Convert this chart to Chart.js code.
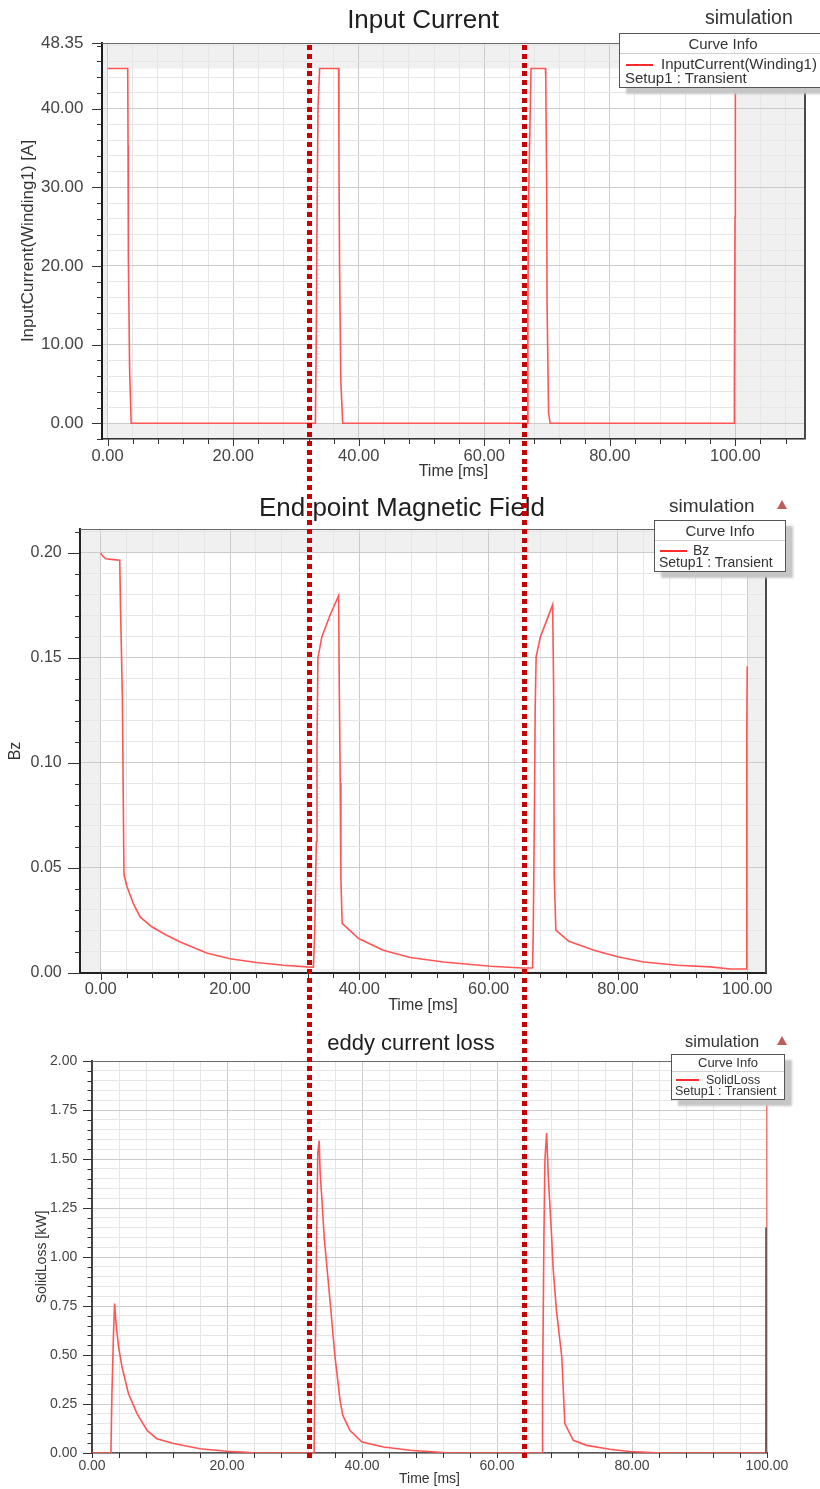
<!DOCTYPE html>
<html>
<head>
<meta charset="utf-8">
<title>Transient simulation</title>
<script src="https://cdn.jsdelivr.net/npm/chart.js@4.4.1/dist/chart.umd.min.js"></script>
<style>
  html, body { margin: 0; padding: 0; background: #fff; }
  body { width: 820px; height: 1489px; position: relative; overflow: hidden;
         font-family: 'Liberation Sans', Arial, sans-serif; color: #222; }
  .plot { position: absolute; left: 0; width: 820px; }
  .title { position: absolute; white-space: nowrap; line-height: 1; transform: translate(-50%, -50%); color: #1e1e1e; }
  .sim { position: absolute; white-space: nowrap; line-height: 1; transform: translateY(-50%); color: #333; }
  .tri { position: absolute; width: 0; height: 0; border-left: 5px solid transparent;
         border-right: 5px solid transparent; border-bottom: 9px solid #c45a5a; }
  .curve-info { position: absolute; box-sizing: border-box; background: #fff; border: 1.5px solid #555;
                box-shadow: 7px 6px 2px #c6c6c6; color: #333; white-space: nowrap; }
  .curve-info .head { text-align: center; border-bottom: 1px solid #d0d0d0; }
  .curve-info .row { position: relative; }
  .curve-info .swatch { display: inline-block; height: 2px; background: #ff2a2a; vertical-align: middle; }
  .marker { position: absolute; width: 5px; z-index: 10;
            background: repeating-linear-gradient(to bottom, #c80000 0 5px, transparent 5px 8.8px); }
</style>
</head>
<body>

<div class="plot" style="top:0;height:490px"><canvas id="current"></canvas></div>
<div class="plot" style="top:490px;height:530px"><canvas id="field"></canvas></div>
<div class="plot" style="top:1020px;height:469px"><canvas id="loss"></canvas></div>

<div class="title" style="left:423px;top:19px;font-size:26px">Input Current</div>
<div class="sim" style="left:705px;top:18px;font-size:19.5px">simulation</div>
<div class="curve-info" style="left:619px;top:33px;width:208px;height:55px;font-size:15px">
  <div class="head" style="height:19px;line-height:19px">Curve Info</div>
  <div class="row" style="padding-top:3px;line-height:14px"><span class="swatch" style="width:27px;margin:0 8px 0 6px"></span>InputCurrent(Winding1)</div>
  <div class="row" style="line-height:14px;padding-left:5px">Setup1 : Transient</div>
</div>

<div class="title" style="left:402px;top:507px;font-size:26px">End point Magnetic Field</div>
<div class="sim" style="left:669px;top:505px;font-size:19px">simulation</div>
<div class="tri" style="left:777px;top:500px"></div>
<div class="curve-info" style="left:654px;top:520px;width:132px;height:52px;font-size:14px">
  <div class="head" style="height:19px;line-height:19px;font-size:15px">Curve Info</div>
  <div class="row" style="padding-top:3px;line-height:12px"><span class="swatch" style="width:27px;margin:0 6px 0 5px"></span>Bz</div>
  <div class="row" style="line-height:12px;padding-left:4px">Setup1 : Transient</div>
</div>

<div class="title" style="left:411px;top:1043px;font-size:22px">eddy current loss</div>
<div class="sim" style="left:685px;top:1041px;font-size:16.5px">simulation</div>
<div class="tri" style="left:777px;top:1036px"></div>
<div class="curve-info" style="left:671px;top:1054px;width:114px;height:46px;font-size:12.5px">
  <div class="head" style="height:15.5px;line-height:15.5px;font-size:13px">Curve Info</div>
  <div class="row" style="padding-top:2px;line-height:12px"><span class="swatch" style="width:23px;margin:0 7px 0 4px"></span>SolidLoss</div>
  <div class="row" style="line-height:11px;padding-left:3px">Setup1 : Transient</div>
</div>

<div class="marker" style="left:307px;top:45px;height:1415px"></div>
<div class="marker" style="left:522px;top:45px;height:1415px"></div>

<script>
// tick labels
const timeLabels = [0, 20, 40, 60, 80, 100];
const currentLabels = [0, 10, 20, 30, 40, 48.35];
const bzLabels = [0, 0.05, 0.10, 0.15, 0.20];
const lossLabels = [0, 0.25, 0.50, 0.75, 1.00, 1.25, 1.50, 1.75, 2.00];

// InputCurrent(Winding1) [A] vs time [ms]
const currentTime = [0, 3.2, 3.25, 3.3, 3.5, 3.75, 33.1, 33.25, 33.36, 33.52, 33.77, 36.8, 36.85, 36.95, 37.15, 37.45,
  66.85, 66.95, 67.05, 67.45, 69.75, 69.8, 69.95, 70.0, 70.25, 70.5, 99.8, 99.85, 99.95, 100];
const currentValue = [45.1, 45.1, 35.3, 21.0, 6.8, 0, 0, 12.1, 26.4, 40.3, 45.1, 45.1, 33.8, 19.7, 5.3, 0,
  0, 13.6, 27.8, 45.1, 45.1, 43.9, 29.8, 15.7, 1.3, 0, 0, 4.7, 26.2, 45.1];

// Bz vs time [ms]
const bzTime = [0, 0.3, 0.8, 2.0, 2.95, 3.05, 3.35, 3.6, 4.0, 5.05, 6.1, 7.9, 10.2, 12.3, 16.4, 20, 24.1, 28.3, 31.9, 32.9,
  33.1, 33.35, 33.45, 33.6, 34.2, 35.5, 36.8, 36.9, 37.05, 37.15, 37.35, 39.9, 43.7, 47.9, 53, 60.3, 65.2, 66.8,
  66.9, 67.1, 67.2, 67.35, 68.0, 69.0, 69.9, 70.05, 70.15, 70.4, 72.4, 76.3, 80.1, 84, 89.2, 94.3, 97.4, 99.85,
  99.9, 99.95, 100];
const bzValue = [0.2, 0.1985, 0.1972, 0.1968, 0.1965, 0.1765, 0.132, 0.047, 0.0418, 0.033, 0.0267, 0.022, 0.018, 0.0148,
  0.0095, 0.0068, 0.005, 0.0037, 0.0029, 0.0028,
  0.019, 0.0625, 0.107, 0.15, 0.16, 0.1706, 0.1796, 0.1364, 0.0905, 0.045, 0.0236, 0.0164, 0.0108, 0.0074, 0.0052,
  0.0032, 0.0024, 0.0024,
  0.019, 0.0824, 0.126, 0.1507, 0.16, 0.168, 0.1753, 0.137, 0.0458, 0.0204, 0.0151, 0.0108, 0.0076, 0.0052, 0.0037,
  0.0029, 0.0019, 0.0019,
  0.05, 0.114, 0.146];

// SolidLoss [kW] vs time [ms]
const lossTime = [0, 2.8, 2.95, 3.2, 3.35, 3.6, 3.95, 4.44, 5.4, 6.66, 8.14, 9.6, 12.1, 16.0, 20, 23.4, 24,
  32.9, 33.3, 33.45, 33.65, 33.8, 34.05, 34.4, 34.8, 35.3, 36.0, 36.75, 37.15, 38.2, 40, 43.2, 47.1, 52, 53,
  66.7, 66.75, 66.95, 67.1, 67.35, 67.6, 68.1, 68.3, 68.8, 69.6, 70.05, 71.3, 73.3, 76.7, 79.7, 83.6, 84.5,
  99.9, 100, 100];
const lossValue = [0, 0, 0.30, 0.627, 0.763, 0.644, 0.54, 0.44, 0.303, 0.201, 0.116, 0.073, 0.048, 0.022, 0.009, 0.002, 0,
  0, 1.14, 1.53, 1.594, 1.428, 1.3, 1.1, 0.95, 0.763, 0.49, 0.269, 0.193, 0.116, 0.056, 0.031, 0.014, 0.002, 0,
  0, 0.31, 1.10, 1.496, 1.632, 1.41, 1.10, 0.95, 0.729, 0.49, 0.15, 0.065, 0.039, 0.019, 0.008, 0.001, 0,
  0, 0.5, 1.98];

Chart.defaults.font.family = "'Liberation Sans', Arial, sans-serif";
Chart.defaults.color = '#444';

const near = (a, b) => Math.abs(a - b) < 1e-9;

// minor grid every `step`, labelled ticks marked so they get darker lines and longer marks
function gridTicks(min, max, step, labels) {
  const vals = [];
  for (let i = Math.ceil(min / step - 1e-9); i * step <= max + 1e-9; i++) vals.push(+(i * step).toFixed(6));
  labels.forEach(l => { if (!vals.some(v => near(v, l))) vals.push(l); });
  vals.sort((a, b) => a - b);
  return vals.map(v => ({ value: v, isLabel: labels.some(l => near(l, v)) }));
}

const gridColor = ctx => (ctx.tick && ctx.tick.isLabel) ? '#cbcbcb' : '#e6e6e6';
const tickText = (v, i, ticks) => ticks[i].isLabel ? v.toFixed(2) : '';

function axis(o) {
  const horizontal = o.pos === 'x';
  return {
    type: 'linear', min: o.min, max: o.max,
    afterBuildTicks: s => { s.ticks = gridTicks(o.min, o.max, o.step, o.labels); },
    afterFit: s => { if (horizontal) s.height = o.size; else s.width = o.size; },
    grid: { color: gridColor, lineWidth: 1, drawTicks: false },
    border: { color: o.borderColor, width: o.borderWidth },
    ticks: { autoSkip: false, maxRotation: 0, minRotation: 0, padding: o.pad,
             font: { size: o.font }, color: '#444', callback: tickText },
    title: { display: true, text: o.title, color: '#333', font: { size: o.titleFont },
             padding: horizontal ? { top: 0, bottom: o.titlePad } : { top: o.titlePad, bottom: 0 } }
  };
}

// grey fill outside the data extent, white inside
const shade = {
  id: 'shade',
  beforeDraw(chart, args, opts) {
    if (!opts.extent) return;
    const { ctx, chartArea: a, scales: { x, y } } = chart;
    const [x0, x1, y0, y1] = opts.extent;
    ctx.save();
    ctx.fillStyle = '#f0f0f0';
    ctx.fillRect(a.left, a.top, a.width, a.height);
    const l = x.getPixelForValue(x0), r = x.getPixelForValue(x1);
    const t = y.getPixelForValue(y1), b = y.getPixelForValue(y0);
    ctx.fillStyle = '#fff';
    ctx.fillRect(l, t, r - l, b - t);
    ctx.restore();
  }
};

// outward tick marks, longer on labelled ticks
const tickMarks = {
  id: 'tickMarks',
  afterDraw(chart, args, opts) {
    const { ctx, chartArea: a } = chart;
    ctx.save();
    ctx.strokeStyle = '#333';
    ctx.lineWidth = 1;
    ['x', 'y'].forEach(key => {
      const s = chart.scales[key];
      const [major, minor] = opts[key];
      s.ticks.forEach(t => {
        const p = Math.round(s.getPixelForValue(t.value)) + 0.5;
        const len = t.isLabel ? major : minor;
        ctx.beginPath();
        if (key === 'x') { ctx.moveTo(p, a.bottom); ctx.lineTo(p, a.bottom + len); }
        else { ctx.moveTo(a.left, p); ctx.lineTo(a.left - len, p); }
        ctx.stroke();
      });
    });
    ctx.restore();
  }
};

// top and right edges of the plot box
const frame = {
  id: 'frame',
  afterDatasetsDraw(chart, args, opts) {
    const { ctx, chartArea: a, scales: { y } } = chart;
    ctx.save();
    ctx.strokeStyle = '#6a6a6a';
    ctx.lineWidth = 1.2;
    ctx.beginPath(); ctx.moveTo(a.left, a.top + 0.5); ctx.lineTo(a.right, a.top + 0.5); ctx.stroke();
    ctx.strokeStyle = '#4a4a4a';
    ctx.lineWidth = opts.rightWidth;
    const top = opts.rightTo == null ? a.top : y.getPixelForValue(opts.rightTo);
    ctx.beginPath(); ctx.moveTo(a.right + opts.rightShift, top); ctx.lineTo(a.right + opts.rightShift, a.bottom); ctx.stroke();
    ctx.restore();
  }
};

function series(times, values) {
  return times.map((t, i) => ({ x: t, y: values[i] }));
}

function extent(times, values) {
  return [Math.min(...times), Math.max(...times), Math.min(...values), Math.max(...values)];
}

function draw(id, d) {
  return new Chart(document.getElementById(id), {
    type: 'line',
    data: {
      datasets: [{
        label: d.label,
        data: series(d.times, d.values),
        borderColor: '#ff5555',
        borderWidth: 1.6,
        pointRadius: 0,
        tension: 0,
        fill: false
      }]
    },
    options: {
      responsive: true,
      maintainAspectRatio: false,
      animation: false,
      layout: { padding: d.padding },
      plugins: {
        legend: { display: false },
        tooltip: { enabled: false },
        title: { display: false },
        shade: { extent: d.shade ? extent(d.times, d.values) : null },
        tickMarks: d.marks,
        frame: d.frame
      },
      scales: { x: axis(d.x), y: axis(d.y) }
    },
    plugins: [shade, tickMarks, frame]
  });
}

draw('current', {
  label: 'InputCurrent(Winding1)',
  times: currentTime, values: currentValue, shade: true,
  padding: { left: 0, top: 43, right: 15, bottom: 0 },
  x: { pos: 'x', min: -0.9, max: 111.1, step: 4, labels: timeLabels, size: 51, pad: 7.5, font: 16.5,
       title: 'Time [ms]', titleFont: 16, titlePad: 8.4, borderColor: '#333', borderWidth: 1.5 },
  y: { pos: 'y', min: -2, max: 48.35, step: 2, labels: currentLabels, size: 102, pad: 18.5, font: 17,
       title: 'InputCurrent(Winding1) [A]', titleFont: 17, titlePad: 18, borderColor: '#1a1a1a', borderWidth: 2 },
  marks: { x: [7, 5], y: [10, 5] },
  frame: { rightWidth: 2, rightShift: 0, rightTo: null }
});

draw('field', {
  label: 'Bz',
  times: bzTime, values: bzValue, shade: true,
  padding: { left: 0, top: 39, right: 54, bottom: 0 },
  x: { pos: 'x', min: -3.2, max: 102.9, step: 4, labels: timeLabels, size: 47, pad: 7, font: 16.5,
       title: 'Time [ms]', titleFont: 16, titlePad: 4.4, borderColor: '#222', borderWidth: 2 },
  y: { pos: 'y', min: 0, max: 0.2114, step: 0.01, labels: bzLabels, size: 80, pad: 18.3, font: 16,
       title: 'Bz', titleFont: 16, titlePad: 6.4, borderColor: '#222', borderWidth: 2 },
  marks: { x: [7, 5], y: [12, 5] },
  frame: { rightWidth: 2, rightShift: 0, rightTo: null }
});

draw('loss', {
  label: 'SolidLoss',
  times: lossTime, values: lossValue, shade: false,
  padding: { left: 0, top: 41, right: 53, bottom: 0 },
  x: { pos: 'x', min: 0, max: 100, step: 4, labels: timeLabels, size: 36, pad: 4.4, font: 14,
       title: 'Time [ms]', titleFont: 14, titlePad: 1, borderColor: '#555', borderWidth: 1.5 },
  y: { pos: 'y', min: 0, max: 2, step: 0.05, labels: lossLabels, size: 92, pad: 14.7, font: 14,
       title: 'SolidLoss [kW]', titleFont: 14, titlePad: 34, borderColor: '#444', borderWidth: 2 },
  marks: { x: [5, 5], y: [9, 4.5] },
  frame: { rightWidth: 1.5, rightShift: -1, rightTo: 1.15 }
});
</script>
</body>
</html>
